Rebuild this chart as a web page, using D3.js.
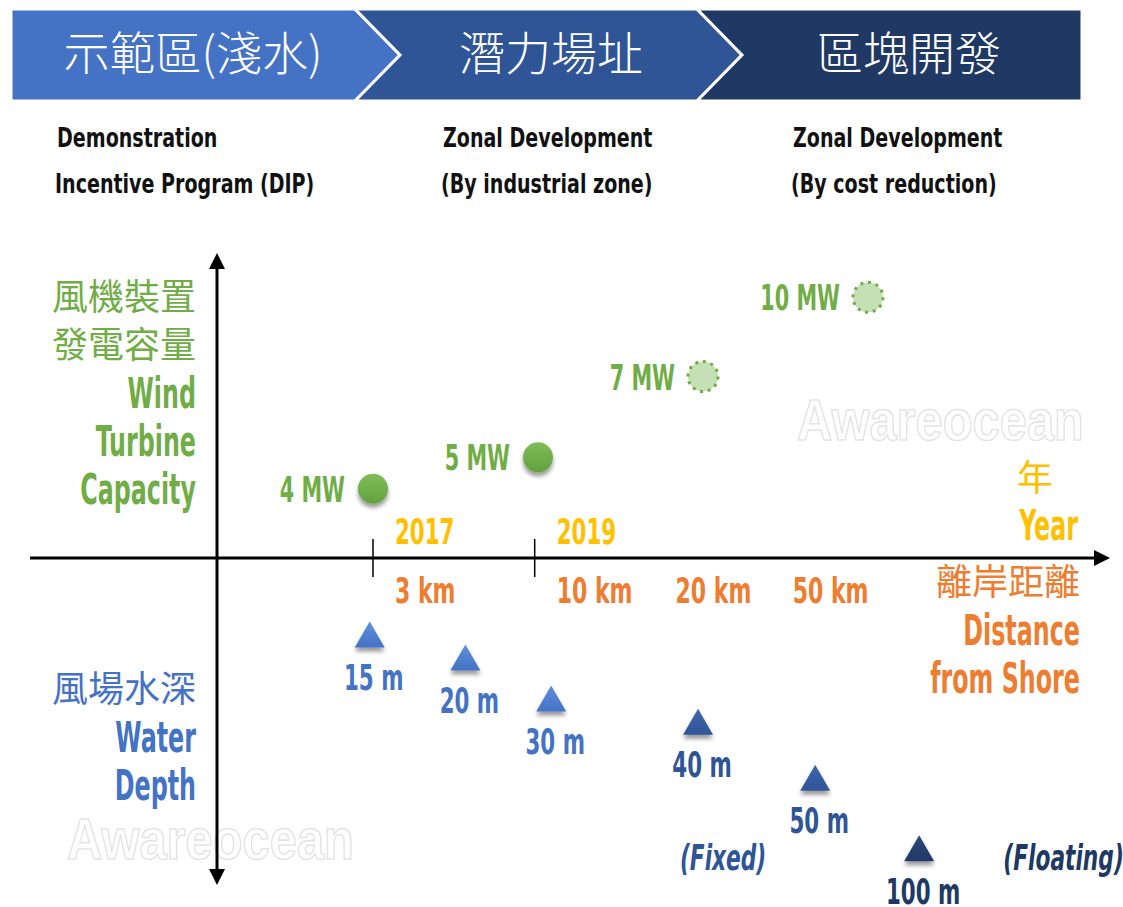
<!DOCTYPE html>
<html>
<head>
<meta charset="utf-8">
<script src="https://cdn.jsdelivr.net/npm/d3@7"></script>
<style>
	body { margin: 0; background: #fff; }
	svg { display: block; }
	.latin { font-family: 'DejaVu Sans Condensed', 'DejaVu Sans', sans-serif; font-weight: bold; }
	.cjk { font-family: 'Noto Sans CJK TC', 'Noto Sans CJK SC', sans-serif; }
</style>
</head>
<body>
<svg id="chart"></svg>
<script>
// data
const stageNames = ['示範區(淺水)', '潛力場址', '區塊開發'];
const stageNoteTop = ['Demonstration', 'Zonal Development', 'Zonal Development'];
const stageNoteBottom = ['Incentive Program (DIP)', '(By industrial zone)', '(By cost reduction)'];

const capacityLabels = ['4 MW', '5 MW', '7 MW', '10 MW'];
const capacityStage = [1, 2, 3, 4];
const capacityLevel = [2.1, 3.05, 5.5, 7.9];
const capacityPlanned = [false, false, true, true];

const yearLabels = ['2017', '2019'];
const yearStage = [1, 1.98];

const distanceLabels = ['3 km', '10 km', '20 km', '50 km'];
const distanceStage = [1, 1.98, 2.7, 3.41];

const depthLabels = ['15 m', '20 m', '30 m', '40 m', '50 m', '100 m'];
const depthStage = [0.98, 1.56, 2.08, 2.97, 3.68, 4.31];
const depthLevel = [-2.45, -3.15, -4.39, -5.09, -6.79, -8.93];
const depthTone = [0, 0, 0, 1, 1, 2];

const foundationLabels = ['(Fixed)', '(Floating)'];
const foundationStage = [2.86, 4.82];
const foundationTone = [1, 2];

const capacityTitle = ['風機裝置', '發電容量', 'Wind', 'Turbine', 'Capacity'];
const depthTitle = ['風場水深', 'Water', 'Depth'];
const yearTitle = ['年', 'Year'];
const distanceTitle = ['離岸距離', 'Distance', 'from Shore'];

// layout
const width = 1123;
const height = 907;
const green = '#70ad47', yellow = '#ffc000', orange = '#ed7d31';
const tones = ['#4472c4', '#2f5597', '#203864'];
const toneTops = ['#5f8fdc', '#3f66ab', '#2c4a7c'];
const headerEdges = [11, 355, 697, 1082];
const headerTop = 9, headerBottom = 101, notch = 45;
const noteX = [57, 443, 793];
const narrow = 0.66;

const xScale = d3.scaleLinear().domain([0, 5]).range([208, 1033]);
const yScale = d3.scaleLinear().domain([-10, 10]).range([888, 228]);
const origin = {x: 217, y: yScale(0)};

const svg = d3.select('#chart')
	.attr('width', width)
	.attr('height', height);

// squeeze text horizontally to imitate the condensed face of the original
function squeeze(sel, k) {
	sel.each(function() {
		const t = d3.select(this);
		const x = +t.attr('x'), y = +t.attr('y');
		t.attr('x', 0).attr('y', 0)
			.attr('transform', `translate(${x}, ${y}) scale(${k}, 1)`);
	});
}

function addDefs() {
	const defs = svg.append('defs');
	const f = defs.append('filter').attr('id', 'shadow')
		.attr('x', '-50%').attr('y', '-50%').attr('width', '200%').attr('height', '220%');
	f.append('feDropShadow').attr('dx', 0).attr('dy', 4).attr('stdDeviation', 2.2)
		.attr('flood-color', '#000').attr('flood-opacity', 0.4);

	const g = defs.append('linearGradient').attr('id', 'greenGrad').attr('x1', 0).attr('y1', 0).attr('x2', 0).attr('y2', 1);
	g.append('stop').attr('offset', '0%').attr('stop-color', '#80bd5a');
	g.append('stop').attr('offset', '100%').attr('stop-color', '#62a13d');

	tones.forEach((c, i) => {
		const t = defs.append('linearGradient').attr('id', 'tone' + i).attr('x1', 0).attr('y1', 0).attr('x2', 0).attr('y2', 1);
		t.append('stop').attr('offset', '0%').attr('stop-color', toneTops[i]);
		t.append('stop').attr('offset', '100%').attr('stop-color', c);
	});
}

function addHeader() {
	const band = d3.scaleBand().domain(stageNames).range([14, 1088]);
	const fills = ['#4472c4', '#2f5597', '#203864'];
	const mid = (headerTop + headerBottom) / 2;

	const shapes = stageNames.map((s, i) => {
		const x0 = headerEdges[i], x1 = headerEdges[i + 1];
		const pts = [[x0, headerTop]];
		if (i < stageNames.length - 1) {
			pts.push([x1, headerTop], [x1 + notch, mid], [x1, headerBottom]);
		} else {
			pts.push([x1, headerTop], [x1, headerBottom]);
		}
		pts.push([x0, headerBottom]);
		if (i > 0) pts.push([x0 + notch, mid]);
		return pts;
	});

	svg.append('g').selectAll('path')
		.data(shapes)
		.enter()
		.append('path')
			.attr('d', d => d3.line()(d) + 'Z')
			.attr('fill', (d, i) => fills[i])
			.attr('stroke', '#fff')
			.attr('stroke-width', 3)
			.attr('stroke-linejoin', 'miter');

	svg.append('g').selectAll('text')
		.data(stageNames)
		.enter()
		.append('text')
			.attr('class', 'cjk')
			.attr('x', d => band(d) + band.bandwidth() / 2)
			.attr('y', 70)
			.attr('text-anchor', 'middle')
			.attr('font-size', 46)
			.attr('font-weight', 300)
			.attr('fill', '#fff')
			.text(d => d);

	const notes = svg.append('g').attr('class', 'latin').attr('font-size', 27).attr('fill', '#111');
	notes.selectAll('.top')
		.data(stageNoteTop)
		.enter()
		.append('text')
			.attr('x', (d, i) => noteX[i])
			.attr('y', 147)
			.text(d => d)
			.call(squeeze, 0.785);
	notes.selectAll('.bottom')
		.data(stageNoteBottom)
		.enter()
		.append('text')
			.attr('x', (d, i) => noteX[i] - 2)
			.attr('y', 193)
			.text(d => d)
			.call(squeeze, 0.785);
}

function addWatermarks() {
	const marks = [{x: 797, y: 440}, {x: 67, y: 859}];
	svg.append('g').selectAll('text')
		.data(marks)
		.enter()
		.append('text')
			.attr('x', d => d.x)
			.attr('y', d => d.y)
			.attr('font-family', "'Liberation Sans', sans-serif")
			.attr('font-weight', 'bold')
			.attr('font-size', 57)
			.attr('fill', '#fff')
			.attr('stroke', '#e4e4e4')
			.attr('stroke-width', 1.6)
			.text('Awareocean')
			.each(function() {
				// fit the mark into the width it takes in the picture
				d3.select(this).call(squeeze, 287 / this.getComputedTextLength());
			});
}

function addAxes() {
	const axes = svg.append('g');
	axes.append('line')
		.attr('x1', origin.x).attr('x2', origin.x)
		.attr('y1', 266).attr('y2', 872)
		.attr('stroke', '#000').attr('stroke-width', 3);
	axes.append('line')
		.attr('x1', 30).attr('x2', 1096)
		.attr('y1', origin.y).attr('y2', origin.y)
		.attr('stroke', '#000').attr('stroke-width', 3);

	const heads = [
		[[origin.x, 253], [origin.x - 8, 269], [origin.x + 8, 269]],
		[[origin.x, 885], [origin.x - 8, 869], [origin.x + 8, 869]],
		[[1110, origin.y], [1094, origin.y - 8], [1094, origin.y + 8]]
	];
	axes.selectAll('path')
		.data(heads)
		.enter()
		.append('path')
			.attr('d', d => d3.line()(d) + 'Z')
			.attr('fill', '#000');

	// year ticks
	axes.selectAll('.tick')
		.data(yearStage)
		.enter()
		.append('line')
			.attr('x1', d => xScale(d)).attr('x2', d => xScale(d))
			.attr('y1', origin.y - 19).attr('y2', origin.y + 19)
			.attr('stroke', '#000').attr('stroke-width', 1.5);
}

function addAxisLabels() {
	const g = svg.append('g');

	g.selectAll('.year')
		.data(yearLabels)
		.enter()
		.append('text')
			.attr('class', 'latin')
			.attr('x', (d, i) => xScale(yearStage[i]) + 22)
			.attr('y', origin.y - 14)
			.attr('font-size', 36)
			.attr('fill', yellow)
			.text(d => d)
			.call(squeeze, narrow);

	g.selectAll('.dist')
		.data(distanceLabels)
		.enter()
		.append('text')
			.attr('class', 'latin')
			.attr('x', (d, i) => xScale(distanceStage[i]) + 22)
			.attr('y', origin.y + 45)
			.attr('font-size', 36)
			.attr('fill', orange)
			.text(d => d)
			.call(squeeze, 0.68);

	// titles on both ends of the axes
	const isLatin = d => /[A-Za-z]/.test(d);
	const block = (lines, x, ys, color) => {
		g.append('g').selectAll('text')
			.data(lines)
			.enter()
			.append('text')
				.attr('class', d => isLatin(d) ? 'latin' : 'cjk')
				.attr('x', x)
				.attr('y', (d, i) => ys[i])
				.attr('text-anchor', 'end')
				.attr('font-size', d => isLatin(d) ? 42 : 36)
				.attr('fill', color)
				.text(d => d)
				.each(function(d) {
					if (isLatin(d)) d3.select(this).call(squeeze, 0.63);
				});
	};
	block(capacityTitle, 196, [310, 358, 408, 456, 504], green);
	block(depthTitle, 196, [702, 752, 800], tones[0]);
	block(distanceTitle, 1080, [595, 645, 693], orange);
	block(yearTitle.slice(1), 1078, [540], yellow);
	block(yearTitle.slice(0, 1), 1053, [491], yellow);
}

function addCapacity() {
	const data = capacityLabels.map((label, i) => ({
		label, x: xScale(capacityStage[i]), y: yScale(capacityLevel[i]), planned: capacityPlanned[i]
	}));
	const g = svg.append('g');

	g.selectAll('circle')
		.data(data)
		.enter()
		.append('circle')
			.attr('cx', d => d.x)
			.attr('cy', d => d.y)
			.attr('r', 15)
			.attr('fill', d => d.planned ? '#c5e0b4' : 'url(#greenGrad)')
			.attr('stroke', d => d.planned ? green : 'none')
			.attr('stroke-width', 3)
			.attr('stroke-dasharray', '3 4.8')
			.attr('filter', d => d.planned ? null : 'url(#shadow)');

	g.selectAll('text')
		.data(data)
		.enter()
		.append('text')
			.attr('class', 'latin')
			.attr('x', d => d.x - 28)
			.attr('y', d => d.y + 13)
			.attr('text-anchor', 'end')
			.attr('font-size', 35)
			.attr('fill', green)
			.text(d => d.label)
			.call(squeeze, narrow);
}

function addDepth() {
	const data = depthLabels.map((label, i) => ({
		label, x: xScale(depthStage[i]), y: yScale(depthLevel[i]), tone: depthTone[i]
	}));
	const g = svg.append('g');
	const tri = d3.symbol().type(d3.symbolTriangle).size(390);

	g.selectAll('path')
		.data(data)
		.enter()
		.append('path')
			.attr('d', tri)
			.attr('transform', d => `translate(${d.x}, ${d.y})`)
			.attr('fill', d => `url(#tone${d.tone})`)
			.attr('filter', 'url(#shadow)');

	g.selectAll('text')
		.data(data)
		.enter()
		.append('text')
			.attr('class', 'latin')
			.attr('x', d => d.x + 4)
			.attr('y', d => d.y + 51)
			.attr('text-anchor', 'middle')
			.attr('font-size', 36)
			.attr('fill', d => tones[d.tone])
			.text(d => d.label)
			.call(squeeze, narrow);

	g.selectAll('.found')
		.data(foundationLabels)
		.enter()
		.append('text')
			.attr('class', 'latin')
			.attr('x', (d, i) => xScale(foundationStage[i]))
			.attr('y', yScale(-9.45))
			.attr('font-size', 35)
			.attr('font-style', 'italic')
			.attr('fill', (d, i) => tones[foundationTone[i]])
			.text(d => d)
			.call(squeeze, 0.69);
}

addDefs();
addHeader();
addWatermarks();
addAxes();
addAxisLabels();
addCapacity();
addDepth();
</script>
</body>
</html>
